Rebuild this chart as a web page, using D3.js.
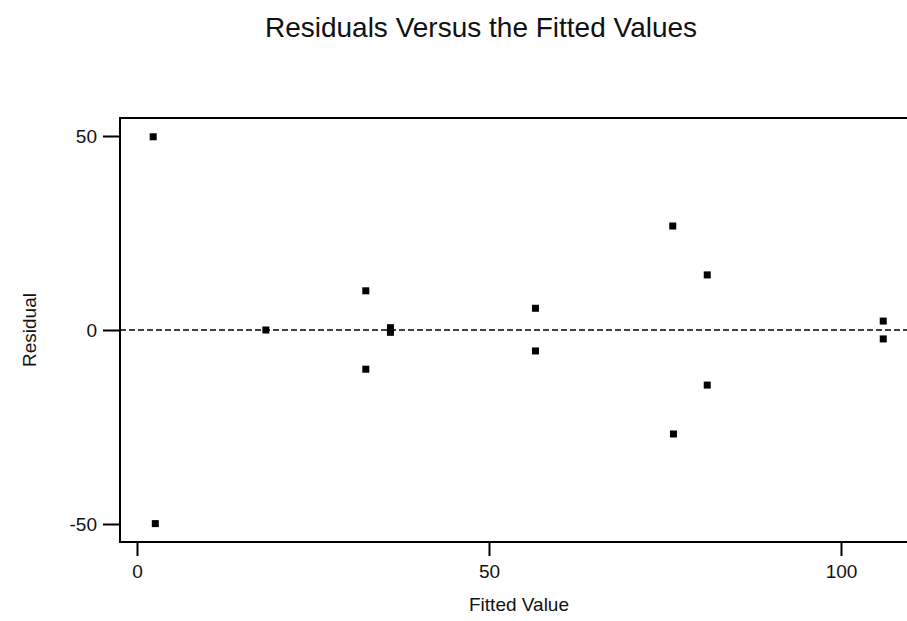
<!DOCTYPE html>
<html>
<head>
<meta charset="utf-8">
<script src="https://cdn.jsdelivr.net/npm/d3@7"></script>
<style>
  html, body { margin: 0; padding: 0; background: #fff; }
  #chart { width: 907px; height: 621px; }
  text { font-family: "Liberation Sans", Arial, Helvetica, sans-serif; fill: #111; }
</style>
</head>
<body>
<div id="chart"></div>
<script>
const fitted = [2.3, 2.6, 18.3, 32.5, 32.5, 36.0, 36.0, 56.6, 56.6, 76.1, 76.2, 81.0, 81.0, 106.0, 106.0];
const residual = [49.8, -49.9, 0.0, 10.1, -10.1, 0.6, -0.6, 5.6, -5.4, 26.8, -26.8, 14.2, -14.2, 2.3, -2.3];
const xTicks = [0, 50, 100];
const yTicks = [-50, 0, 50];

const width = 907, height = 621;
const frame = { left: 120, top: 118, right: 930, bottom: 542 };

const svg = d3.select("#chart").append("svg")
  .attr("width", width)
  .attr("height", height);

const x = d3.scaleLinear().domain([0, 100]).range([137, 841]);
const y = d3.scaleLinear().domain([-50, 50]).range([524, 136]);

// title
svg.append("text")
  .attr("x", 481)
  .attr("y", 37)
  .attr("text-anchor", "middle")
  .attr("font-size", "28px")
  .text("Residuals Versus the Fitted Values");

// plot frame
svg.append("rect")
  .attr("x", frame.left)
  .attr("y", frame.top)
  .attr("width", frame.right - frame.left)
  .attr("height", frame.bottom - frame.top)
  .attr("fill", "none")
  .attr("stroke", "#000")
  .attr("stroke-width", 2);

// zero reference line
svg.append("line")
  .attr("x1", frame.left)
  .attr("x2", width)
  .attr("y1", y(0))
  .attr("y2", y(0))
  .attr("stroke", "#000")
  .attr("stroke-width", 1.6)
  .attr("stroke-dasharray", "6,3");

// axes
const fmt = d => String(d);
const xAxis = svg.append("g")
  .attr("transform", "translate(0," + frame.bottom + ")")
  .call(d3.axisBottom(x).tickValues(xTicks).tickFormat(fmt).tickSize(14).tickPadding(9));
const yAxis = svg.append("g")
  .attr("transform", "translate(" + frame.left + ",0)")
  .call(d3.axisLeft(y).tickValues(yTicks).tickFormat(fmt).tickSize(17).tickPadding(6));

[xAxis, yAxis].forEach(g => {
  g.select(".domain").remove();
  g.selectAll(".tick line").attr("stroke", "#000").attr("stroke-width", 2);
  g.selectAll(".tick text")
    .attr("font-size", "19px")
    .attr("font-family", "Liberation Sans, Arial, sans-serif")
    .attr("fill", "#111");
});

// axis titles
svg.append("text")
  .attr("x", 519)
  .attr("y", 611)
  .attr("text-anchor", "middle")
  .attr("font-size", "19px")
  .text("Fitted Value");

svg.append("text")
  .attr("transform", "rotate(-90)")
  .attr("x", -330)
  .attr("y", 36)
  .attr("text-anchor", "middle")
  .attr("font-size", "19px")
  .text("Residual");

// points
const s = 7;
svg.append("g")
  .selectAll("rect")
  .data(fitted.map((f, i) => ({ f, r: residual[i] })))
  .join("rect")
  .attr("x", d => x(d.f) - s / 2)
  .attr("y", d => y(d.r) - s / 2)
  .attr("width", s)
  .attr("height", s)
  .attr("fill", "#000");
</script>
</body>
</html>
